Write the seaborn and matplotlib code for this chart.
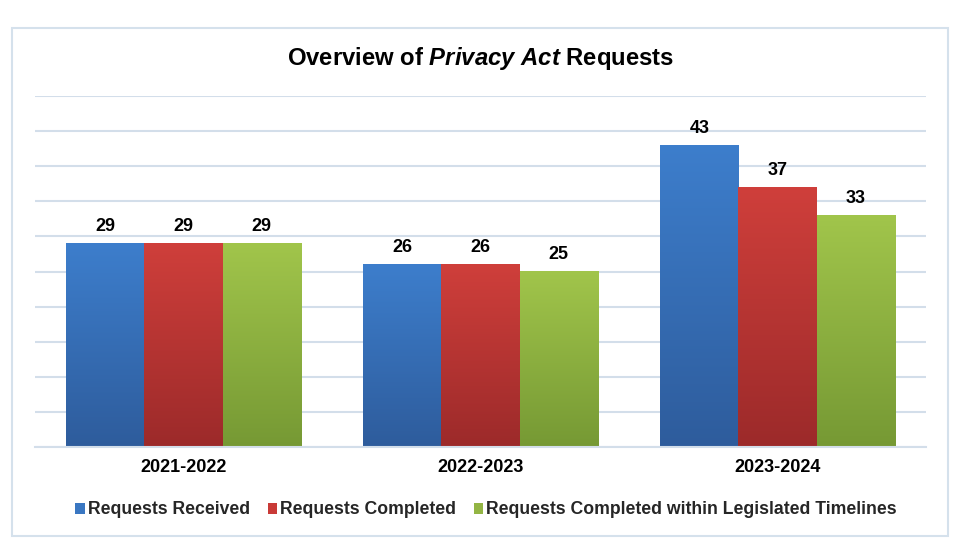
import numpy as np
import pandas as pd
import matplotlib
matplotlib.use("Agg")
import matplotlib.pyplot as plt
import seaborn as sns
from matplotlib.colors import LinearSegmentedColormap
from matplotlib.patches import Rectangle, Patch

years = ["2021-2022", "2022-2023", "2023-2024"]
series = ["Requests Received", "Requests Completed",
          "Requests Completed within Legislated Timelines"]
received = [29, 26, 43]
completed = [29, 26, 37]
within_timelines = [29, 25, 33]

top_colors = ["#3D7ECC", "#CF3F3B", "#A1C54B"]
bottom_colors = ["#2E5C9C", "#9C2A2A", "#769934"]
legend_colors = ["#3A77C2", "#C93A37", "#93B544"]

df = pd.DataFrame({
    "Year": years * 3,
    "Series": [series[0]] * 3 + [series[1]] * 3 + [series[2]] * 3,
    "Value": received + completed + within_timelines,
})

sns.set_theme(style="white")
plt.rcParams["font.family"] = ["Liberation Sans", "DejaVu Sans"]
plt.rcParams["mathtext.fontset"] = "custom"
plt.rcParams["mathtext.rm"] = "Liberation Sans:bold"
plt.rcParams["mathtext.it"] = "Liberation Sans:italic:bold"
plt.rcParams["mathtext.bf"] = "Liberation Sans:bold"

fig = plt.figure(figsize=(9.67, 5.52), dpi=100)
fig.patch.set_facecolor("white")
fig.add_artist(Rectangle((12 / 967, 1 - 536 / 552), (948 - 12) / 967, (536 - 28) / 552,
                         transform=fig.transFigure, fill=False,
                         edgecolor="#D5E1EC", linewidth=1.5))

ax = fig.add_axes([35 / 967, 1 - 447 / 552, (926 - 35) / 967, (447 - 96) / 552])
sns.barplot(data=df, x="Year", y="Value", hue="Series", order=years,
            hue_order=series, palette=legend_colors, width=0.79,
            saturation=1, ax=ax, legend=False, errorbar=None)

ax.set_ylim(0, 50)
ax.set_xlim(-0.5, 2.5)
ax.set_yticks(np.arange(0, 51, 5))
ax.set_yticklabels([])
ax.tick_params(axis="y", length=0)
ax.tick_params(axis="x", length=0, pad=9)
ax.grid(axis="y", color="#D3DEEA", linewidth=1.5)
ax.set_axisbelow(True)
for s in ["left", "right", "top"]:
    ax.spines[s].set_visible(False)
ax.spines["bottom"].set_color("#D3DEEA")
ax.spines["bottom"].set_linewidth(1.5)
ax.set_xlabel("")
ax.set_ylabel("")
for lbl in ax.get_xticklabels():
    lbl.set_fontweight("bold")
    lbl.set_fontsize(13)
    lbl.set_color("black")

# gradient fill for bars
grad = np.linspace(0, 1, 256).reshape(-1, 1)
for i, cont in enumerate(ax.containers):
    cmap = LinearSegmentedColormap.from_list("g%d" % i, [bottom_colors[i], top_colors[i]])
    for bar in cont:
        x0, y0 = bar.get_x(), bar.get_y()
        w, h = bar.get_width(), bar.get_height()
        bar.set_facecolor("none")
        bar.set_edgecolor("none")
        ax.imshow(grad, cmap=cmap, origin="lower", aspect="auto",
                  extent=(x0, x0 + w, y0, y0 + h), zorder=2)
    ax.bar_label(cont, padding=6, fontsize=13, fontweight="bold", color="black")
ax.set_xlim(-0.5, 2.5)
ax.set_ylim(0, 50)

fig.text(481 / 967, 1 - 58 / 552, r"Overview of $\mathit{Privacy}$ $\mathit{Act}$ Requests",
         ha="center", va="center", fontsize=17.2, fontweight="bold", color="black")

handles = [Patch(facecolor=c, edgecolor="none") for c in legend_colors]
fig.legend(handles, series, loc="center", bbox_to_anchor=(486 / 967, 1 - 510 / 552),
           ncol=3, frameon=False, handlelength=0.55, handleheight=0.55,
           handletextpad=0.15, columnspacing=1.0,
           prop={"weight": "bold", "size": 12.7})

fig.savefig("out.png", dpi=100, facecolor="white")
